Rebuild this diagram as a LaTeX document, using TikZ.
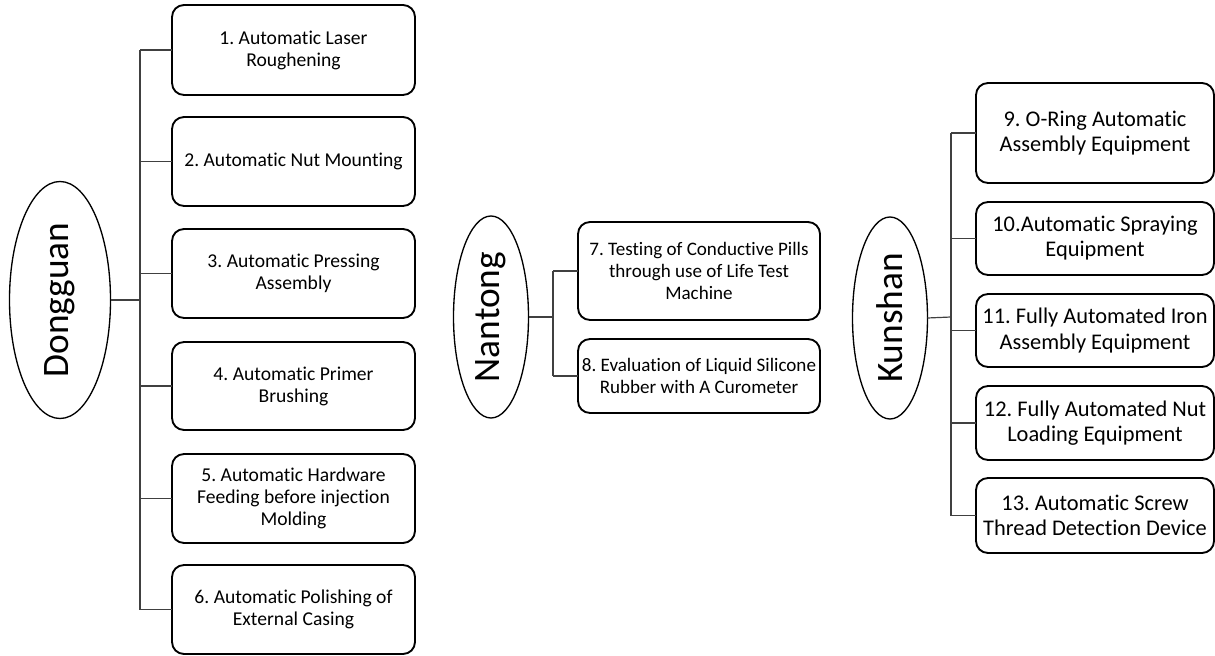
\documentclass[tikz,border=0pt]{standalone}
\usepackage{fontspec}
\setmainfont{Carlito}[Ligatures=NoCommon]
\usetikzlibrary{shapes.geometric}
\frenchspacing
\begin{document}
\begin{tikzpicture}[x=0.75pt,y=-0.75pt,
  every node/.style={inner sep=0pt, outer sep=0pt},
  box/.style n args={2}{draw=black, line width=1.4pt, rounded corners=9pt,
    align=center, minimum width=#1*0.75pt, minimum height=#2*0.75pt},
  site/.style n args={2}{draw=black, line width=1pt, ellipse, rotate=90,
    minimum width=#1*0.75pt, minimum height=#2*0.75pt,
    font=\fontsize{28}{30}\selectfont},
  dtext/.style={font=\fontsize{14.7}{16.5}\selectfont},
  ntext/.style={font=\fontsize{14.3}{16.8}\selectfont},
  ktext/.style={font=\fontsize{16.8}{18.8}\selectfont},
  link/.style={draw=black!75, line width=0.9pt}]
\useasboundingbox (0,0) rectangle (1215,656);

% Dongguan
\node[site={237}{101}] (dg) at (60,300) {Dongguan};
\node[box={243}{90}, dtext] (d1) at (293.5,50) {1. Automatic Laser\\Roughening};
\node[box={243}{89}, dtext] (d2) at (293.5,161.5) {2. Automatic Nut Mounting};
\node[box={243}{89}, dtext] (d3) at (293.5,273.5) {3. Automatic Pressing\\Assembly};
\node[box={243}{88}, dtext] (d4) at (293.5,386) {4. Automatic Primer\\Brushing};
\node[box={243}{89}, dtext] (d5) at (293.5,498.5) {5. Automatic Hardware\\Feeding before injection\\Molding};
\node[box={243}{89}, dtext] (d6) at (293.5,609.5) {6. Automatic Polishing of\\External Casing};
\coordinate (dj) at (140,300);
\coordinate (dt) at (140,50);
\coordinate (db) at (140,609.5);
\draw[link] (dg.south) -- (dj);
\draw[link] (dt) -- (db);
\foreach \b in {d1,d2,d3,d4,d5,d6} \draw[link] (dj |- \b.west) -- (\b.west);

% Nantong
\node[site={202}{75}] (nt) at (491,317) {Nantong};
\node[box={242}{98}, ntext] (n7) at (699,271) {7. Testing of Conductive Pills\\through use of Life Test\\Machine};
\node[box={242}{74}, ntext] (n8) at (699,376) {8. Evaluation of Liquid Silicone\\Rubber with A Curometer};
\coordinate (nj) at (553,317);
\draw[link] (nt.south) -- (nj);
\draw[link] (nj |- n7.west) -- (nj |- n8.west);
\foreach \b in {n7,n8} \draw[link] (nj |- \b.west) -- (\b.west);

% Kunshan
\node[site={202}{75}] (ks) at (890,318) {Kunshan};
\node[box={238}{100}, ktext] (k9) at (1095,133) {9. O-Ring Automatic\\Assembly Equipment};
\node[box={238}{73}, ktext] (k10) at (1095,238.5) {10.Automatic Spraying\\Equipment};
\node[box={238}{73}, ktext] (k11) at (1095,330.5) {11. Fully Automated Iron\\Assembly Equipment};
\node[box={238}{74}, ktext] (k12) at (1095,423) {12. Fully Automated Nut\\Loading Equipment};
\node[box={238}{75}, ktext] (k13) at (1095,515.5) {13. Automatic Screw\\Thread Detection Device};
\coordinate (kj) at (951,317);
\draw[link] (ks.south) -- (kj);
\draw[link] (kj |- k9.west) -- (kj |- k13.west);
\foreach \b in {k9,k10,k11,k12,k13} \draw[link] (kj |- \b.west) -- (\b.west);
\end{tikzpicture}
\end{document}
